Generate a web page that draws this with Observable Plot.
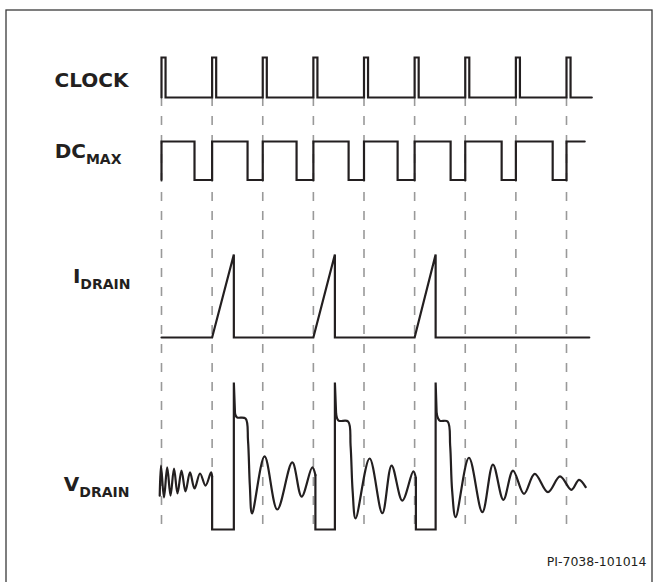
<!DOCTYPE html>
<html>
<head>
<meta charset="utf-8">
<script src="https://cdn.jsdelivr.net/npm/d3@7"></script>
<script src="https://cdn.jsdelivr.net/npm/@observablehq/plot@0.6"></script>
<style>
  html, body { margin: 0; padding: 0; background: #fff; }
  #chart svg { display: block; }
</style>
</head>
<body>
<div id="chart"></div>
<script>
// ---------- DATA (time in clock periods) ----------
const signalNames = ["CLOCK", "DC", "I", "V"];
const signalSubs  = ["", "MAX", "DRAIN", "DRAIN"];
const caption = "PI-7038-101014";

// CLOCK: rising edges and pulse width
const clockRise = [0, 1, 2, 3, 4, 5, 6, 7, 8];
const clockPulseWidth = 0.08;
const clockEnd = 8.5;

// DC_MAX: rising / falling edges
const dcRise = [0, 1, 2, 3, 4, 5, 6, 7, 8];
const dcFall = [0.652, 1.700, 2.668, 3.696, 4.664, 5.711, 6.719, 7.727];
const dcEnd = 8.36;

// I_DRAIN: ramp start and peak times (level 0 -> 1)
const iRampStart = [1, 3, 5];
const iRampPeak  = [1.429, 3.425, 5.415];
const iEnd = 8.45;

// V_DRAIN (0 = low, 100 = spike top); smooth ringing pieces and straight edges
const vRing0T = [-0.035, -0.010, 0.049, 0.113, 0.178, 0.247, 0.316, 0.395, 0.474, 0.563, 0.652, 0.761, 0.870, 0.978, 1.000];
const vRing0V = [23.0, 43.5, 21.8, 42.2, 23.1, 41.5, 24.5, 40.1, 25.9, 38.8, 27.9, 38.1, 29.9, 38.8, 36.1];
const vEdge1T = [1.000, 1.000, 1.429, 1.429, 1.452];
const vEdge1V = [36.1, 0, 0, 100, 78.9];
const vRing1T = [1.452, 1.490, 1.660, 1.709, 1.745, 1.789, 2.036, 2.287, 2.583, 2.767, 2.978, 3.040];
const vRing1V = [78.9, 76.3, 75.5, 60.5, 29.9, 10.9, 49.7, 13.6, 45.6, 22.4, 42.2, 37.0];
const vEdge2T = [3.040, 3.040, 3.425, 3.425, 3.449];
const vEdge2V = [37.0, 0, 0, 100, 78.9];
const vRing2T = [3.449, 3.498, 3.686, 3.735, 3.775, 3.834, 4.111, 4.362, 4.545, 4.757, 4.974, 5.025];
const vRing2V = [78.9, 74.1, 73.5, 57.1, 26.5, 7.5, 48.3, 11.1, 43.5, 19.7, 39.5, 35.0];
const vEdge3T = [5.025, 5.025, 5.415, 5.415, 5.435];
const vEdge3V = [35.0, 0, 0, 100, 78.9];
const vRing3T = [5.435, 5.494, 5.652, 5.702, 5.741, 5.810, 6.073, 6.338, 6.547, 6.753, 6.943, 7.160, 7.372, 7.634, 7.872, 8.097, 8.248, 8.379];
const vRing3V = [78.9, 74.1, 73.5, 57.1, 26.5, 8.4, 48.8, 11.8, 44.2, 20.2, 40.1, 24.3, 37.9, 25.4, 36.1, 27.0, 33.8, 28.8];

// ---------- LAYOUT (pixels) ----------
const W = 657, H = 582;
const lanes = {
  clock:  { low: 97,    high: 57 },
  dc:     { low: 179.5, high: 141 },
  idrain: { low: 337,   high: 254 },
  vdrain: { low: 529,   high: 382 }
};
const dashTop = 97, dashBottom = 531;
const labelRight = [128, 121, 130, 129];
const labelMidY  = [80.5, 151, 276, 484];
const ink = "#231f20";

const laneY = (lane, level) => lane.low + (lane.high - lane.low) * level;

// ---------- BUILD WAVEFORMS ----------
const clockPts = [{t: 0, y: laneY(lanes.clock, 0)}];
clockRise.forEach(r => {
  clockPts.push({t: r, y: laneY(lanes.clock, 0)}, {t: r, y: laneY(lanes.clock, 1)},
                {t: r + clockPulseWidth, y: laneY(lanes.clock, 1)}, {t: r + clockPulseWidth, y: laneY(lanes.clock, 0)});
});
clockPts.push({t: clockEnd, y: laneY(lanes.clock, 0)});

const dcPts = [];
dcRise.forEach((r, i) => {
  dcPts.push({t: r, y: laneY(lanes.dc, 0)}, {t: r, y: laneY(lanes.dc, 1)});
  if (i < dcFall.length) dcPts.push({t: dcFall[i], y: laneY(lanes.dc, 1)}, {t: dcFall[i], y: laneY(lanes.dc, 0)});
});
dcPts.push({t: dcEnd, y: laneY(lanes.dc, 1)});

const iPts = [{t: 0, y: laneY(lanes.idrain, 0)}];
iRampStart.forEach((s, i) => {
  iPts.push({t: s, y: laneY(lanes.idrain, 0)}, {t: iRampPeak[i], y: laneY(lanes.idrain, 1)}, {t: iRampPeak[i], y: laneY(lanes.idrain, 0)});
});
iPts.push({t: iEnd, y: laneY(lanes.idrain, 0)});

const vPiece = (T, V, id) => T.map((t, i) => ({t, y: laneY(lanes.vdrain, V[i] / 100), id}));
const vSmooth = [
  ...vPiece(vRing0T, vRing0V, "r0"), ...vPiece(vRing1T, vRing1V, "r1"),
  ...vPiece(vRing2T, vRing2V, "r2"), ...vPiece(vRing3T, vRing3V, "r3")
];
const vStraight = [
  ...vPiece(vEdge1T, vEdge1V, "e1"), ...vPiece(vEdge2T, vEdge2V, "e2"), ...vPiece(vEdge3T, vEdge3V, "e3")
];

const waveStyle = {x: "t", y: "y", stroke: ink, strokeWidth: 2.2, strokeLinejoin: "miter", strokeMiterlimit: 4};

const labelMarks = signalNames.map((name, i) =>
  Plot.text([name + signalSubs[i]], {
    frameAnchor: "top-left", dx: labelRight[i], dy: labelMidY[i],
    textAnchor: "end", lineAnchor: "middle",
    fontFamily: "DejaVu Sans", fontWeight: "bold", fontSize: 20, fill: ink,
    className: "sig-label"
  })
);

const chart = Plot.plot({
  width: W, height: H,
  marginLeft: 0, marginRight: 0, marginTop: 0, marginBottom: 0,
  x: {domain: [0, 8], range: [161, 566], axis: null},
  y: {domain: [0, H], range: [0, H], axis: null},
  style: {background: "#fff", fontFamily: "DejaVu Sans"},
  marks: [
    Plot.frame({stroke: "#3a3a3a", strokeWidth: 1.3, insetLeft: 5.5, insetTop: 9.5, insetRight: 5.5, insetBottom: -20}),
    Plot.ruleX(clockRise, {x: d => d, y1: dashTop, y2: dashBottom, stroke: "#999", strokeWidth: 1.6, strokeDasharray: "9,10"}),
    Plot.line(clockPts, waveStyle),
    Plot.line(dcPts, waveStyle),
    Plot.line(iPts, waveStyle),
    Plot.line(vSmooth, {...waveStyle, z: "id", curve: "catmull-rom"}),
    Plot.line(vStraight, {...waveStyle, z: "id", curve: "linear"}),
    ...labelMarks,
    Plot.text([caption], {frameAnchor: "bottom-right", dx: -11, dy: -17, textAnchor: "end",
      fontFamily: "DejaVu Sans", fontSize: 12.5, fill: ink})
  ]
});

document.getElementById("chart").appendChild(chart);

// subscripts
d3.select(chart).selectAll("g.sig-label text").each(function() {
  const full = this.textContent;
  const i = signalNames.findIndex((n, k) => n + signalSubs[k] === full);
  if (i < 0) return;
  const sel = d3.select(this);
  sel.text(null);
  sel.append("tspan").text(signalNames[i]);
  if (signalSubs[i]) sel.append("tspan").attr("font-size", 14).attr("dy", 6).text(signalSubs[i]);
});
</script>
</body>
</html>
